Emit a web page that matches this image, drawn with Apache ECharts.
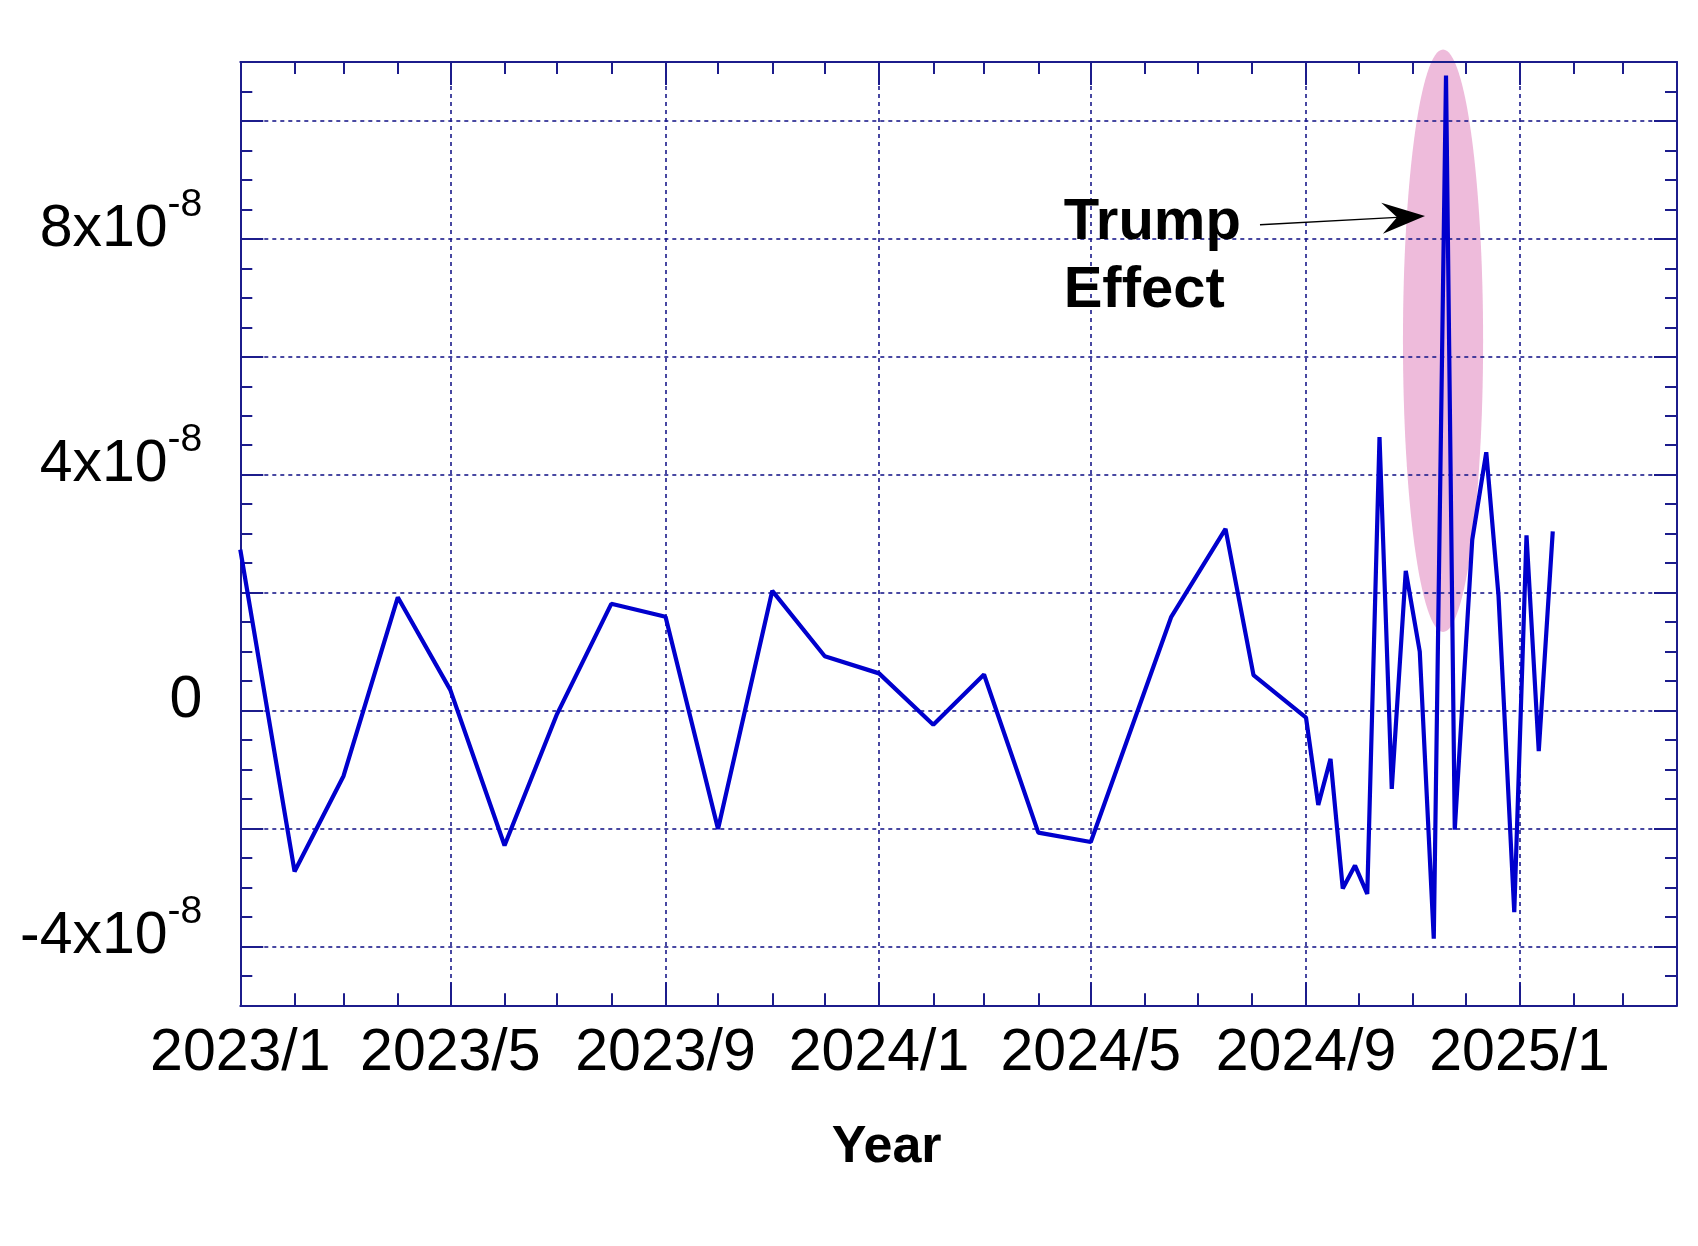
<!DOCTYPE html>
<html>
<head>
<meta charset="utf-8">
<script src="https://cdn.jsdelivr.net/npm/echarts@6/dist/echarts.min.js"></script>
<style>html,body{margin:0;padding:0;background:#fff}#c{width:1698px;height:1246px}</style>
</head>
<body>
<div id="c"></div>
<script>
// ---- data (values in units of 10^-8) ----
const dates = [
  '2023-01-01','2023-02-01','2023-03-01','2023-04-01','2023-05-01','2023-06-01',
  '2023-07-01','2023-08-01','2023-09-01','2023-10-01','2023-11-01','2023-12-01',
  '2024-01-01','2024-02-01','2024-03-01','2024-04-01','2024-05-01','2024-06-16',
  '2024-07-17','2024-08-02','2024-09-01','2024-09-08','2024-09-15','2024-09-22',
  '2024-09-29','2024-10-06','2024-10-13','2024-10-20','2024-10-28','2024-11-05',
  '2024-11-13','2024-11-20','2024-11-25','2024-12-05','2024-12-13','2024-12-20',
  '2024-12-29','2025-01-05','2025-01-12','2025-01-20'
];
const values = [
  2.73, -2.73, -1.11, 1.92, 0.35, -2.29,
  -0.06, 1.81, 1.59, -2.01, 2.03, 0.92,
  0.63, -0.24, 0.61, -2.07, -2.23, 1.59,
  3.08, 0.60, -0.12, -1.60, -0.82, -3.02,
  -2.63, -3.11, 4.64, -1.33, 2.37, 1.00,
  -3.87, 10.77, -2.02, 2.90, 4.38, 1.95,
  -3.42, 2.97, -0.69, 3.04
];
const xTickLabels = ['2023/1','2023/5','2023/9','2024/1','2024/5','2024/9','2025/1'];
const yLabelValues = [-4, 0, 4, 8];
const yMajorTicks = [-4, -2, 0, 2, 4, 6, 8, 10];
const xRange = ['2023/1/1', '2025/4/1'];
const yRange = [-5, 11];

// ---- helpers ----
const DAY = 86400000;
const toTs = s => { const p = s.split(/[-\/]/).map(Number); return Date.UTC(p[0], p[1] - 1, p[2] || 1); };
const xMin = toTs(xRange[0]), xMax = toTs(xRange[1]);
const majorX = xTickLabels.map(toTs);
const minorX = [];
for (let y = 2023, m = 0; Date.UTC(y, m, 1) <= xMax; ) { minorX.push(Date.UTC(y, m, 1)); m++; if (m === 12) { m = 0; y++; } }
const seriesData = dates.map((d, i) => [toTs(d), values[i]]);

const NAVY = '#1c1c8c';
const FONT = '"Liberation Sans", Arial, Helvetica, sans-serif';
const fmtX = v => { const d = new Date(v); return d.getUTCFullYear() + '/' + (d.getUTCMonth() + 1); };
const fmtY = v => (Math.abs(v) < 1e-9 ? '{b|0}' : '{b|' + v + 'x10}{s|-8}');

// annotation placement (data space)
const ellipseSpec = [toTs('2024-11-18') + 0.3 * DAY, 6.27, 22.9 * DAY, 4.94];
const annotSpec = [toTs('2024-04-15') + 0.5 * DAY, 8.86, toTs('2024-08-05') + 0.7 * DAY, 8.24, toTs('2024-11-08'), 8.39];

function xAxisDef(pos, major) {
  return {
    type: 'value', position: pos, min: xMin, max: xMax, gridIndex: 0,
    axisLine: { show: major, onZero: false, lineStyle: { color: NAVY, width: 2 } },
    axisTick: { show: true, inside: true, length: major ? 23 : 12, customValues: major ? majorX : minorX,
      lineStyle: { color: NAVY, width: 2 } },
    axisLabel: (major && pos === 'bottom') ? {
      show: true, customValues: majorX, formatter: fmtX, fontSize: 59, fontFamily: FONT, color: '#000', margin: 19
    } : { show: false },
    splitLine: { show: major && pos === 'bottom', lineStyle: { color: NAVY, width: 1.6, type: [4, 4] } },
    name: (major && pos === 'bottom') ? 'Year' : '',
    nameLocation: 'middle', nameGap: 116, nameMoveOverlap: false,
    nameTextStyle: { fontSize: 52, fontWeight: 'bold', fontFamily: FONT, color: '#000', padding: [0, 144, 0, 0] }
  };
}
function yAxisDef(pos, major) {
  const ax = {
    type: 'value', position: pos, min: yRange[0], max: yRange[1], gridIndex: 0,
    axisLine: { show: major, onZero: false, lineStyle: { color: NAVY, width: 2 } },
    axisTick: { show: true, inside: true, length: major ? 23 : 12, lineStyle: { color: NAVY, width: 2 } },
    axisLabel: { show: false },
    splitLine: { show: false }
  };
  if (major) {
    ax.axisTick.customValues = yMajorTicks;
    ax.splitLine = { show: pos === 'left', lineStyle: { color: NAVY, width: 1.6, type: [4, 4] } };
    if (pos === 'left') {
      ax.axisLabel = {
        show: true, customValues: yLabelValues, formatter: fmtY, margin: 38, color: '#000',
        padding: [0, 0, 19, 0],
        rich: {
          b: { fontSize: 59, fontFamily: FONT, color: '#000', lineHeight: 88 },
          s: { fontSize: 39, fontFamily: FONT, color: '#000', lineHeight: 39, verticalAlign: 'top' }
        }
      };
    }
  } else {
    ax.interval = 0.5;
  }
  return ax;
}

const chart = echarts.init(document.getElementById('c'), null, { renderer: 'canvas' });
chart.setOption({
  animation: false,
  backgroundColor: '#fff',
  grid: { left: 240.3, right: 21, top: 62, bottom: 240.7, outerBoundsMode: 'none', containLabel: false },
  xAxis: [xAxisDef('bottom', true), xAxisDef('bottom', false), xAxisDef('top', true), xAxisDef('top', false)],
  yAxis: [yAxisDef('left', true), yAxisDef('left', false), yAxisDef('right', true), yAxisDef('right', false)],
  series: [
    {
      type: 'custom', z: -1, clip: false, silent: true,
      data: [ellipseSpec],
      renderItem: (params, api) => {
        const c = api.coord([api.value(0), api.value(1)]);
        const p = api.coord([api.value(0) + api.value(2), api.value(1) + api.value(3)]);
        return { type: 'ellipse', shape: { cx: c[0], cy: c[1], rx: Math.abs(p[0] - c[0]), ry: Math.abs(c[1] - p[1]) },
          style: { fill: '#eebbdb' } };
      }
    },
    {
      type: 'line', xAxisIndex: 0, yAxisIndex: 0, data: seriesData,
      showSymbol: false, symbol: 'none', z: 3,
      lineStyle: { color: '#0000cd', width: 4.2 }
    },
    {
      type: 'custom', z: 4, clip: false, silent: true,
      data: [annotSpec],
      renderItem: (params, api) => {
        const t = api.coord([api.value(0), api.value(1)]);
        const s = api.coord([api.value(2), api.value(3)]);
        const e = api.coord([api.value(4), api.value(5)]);
        const dx = e[0] - s[0], dy = e[1] - s[1], L = Math.hypot(dx, dy);
        const ux = dx / L, uy = dy / L, px = -uy, py = ux;
        const headLen = 43, halfW = 15.5, notch = 28;
        const nx = e[0] - ux * notch, ny = e[1] - uy * notch;
        return { type: 'group', children: [
          { type: 'line', shape: { x1: s[0], y1: s[1], x2: nx, y2: ny }, style: { stroke: '#000', lineWidth: 1.5 } },
          { type: 'polygon', shape: { points: [
              [e[0], e[1]],
              [e[0] - ux * headLen + px * halfW, e[1] - uy * headLen + py * halfW],
              [nx, ny],
              [e[0] - ux * headLen - px * halfW, e[1] - uy * headLen - py * halfW]
            ] }, style: { fill: '#000' } },
          { type: 'text', x: t[0], y: t[1], style: { text: 'Trump\nEffect', fill: '#000', fontSize: 58, fontWeight: 'bold',
              fontFamily: FONT, lineHeight: 68.7, align: 'left', verticalAlign: 'top' } }
        ] };
      }
    }
  ]
});
</script>
</body>
</html>
